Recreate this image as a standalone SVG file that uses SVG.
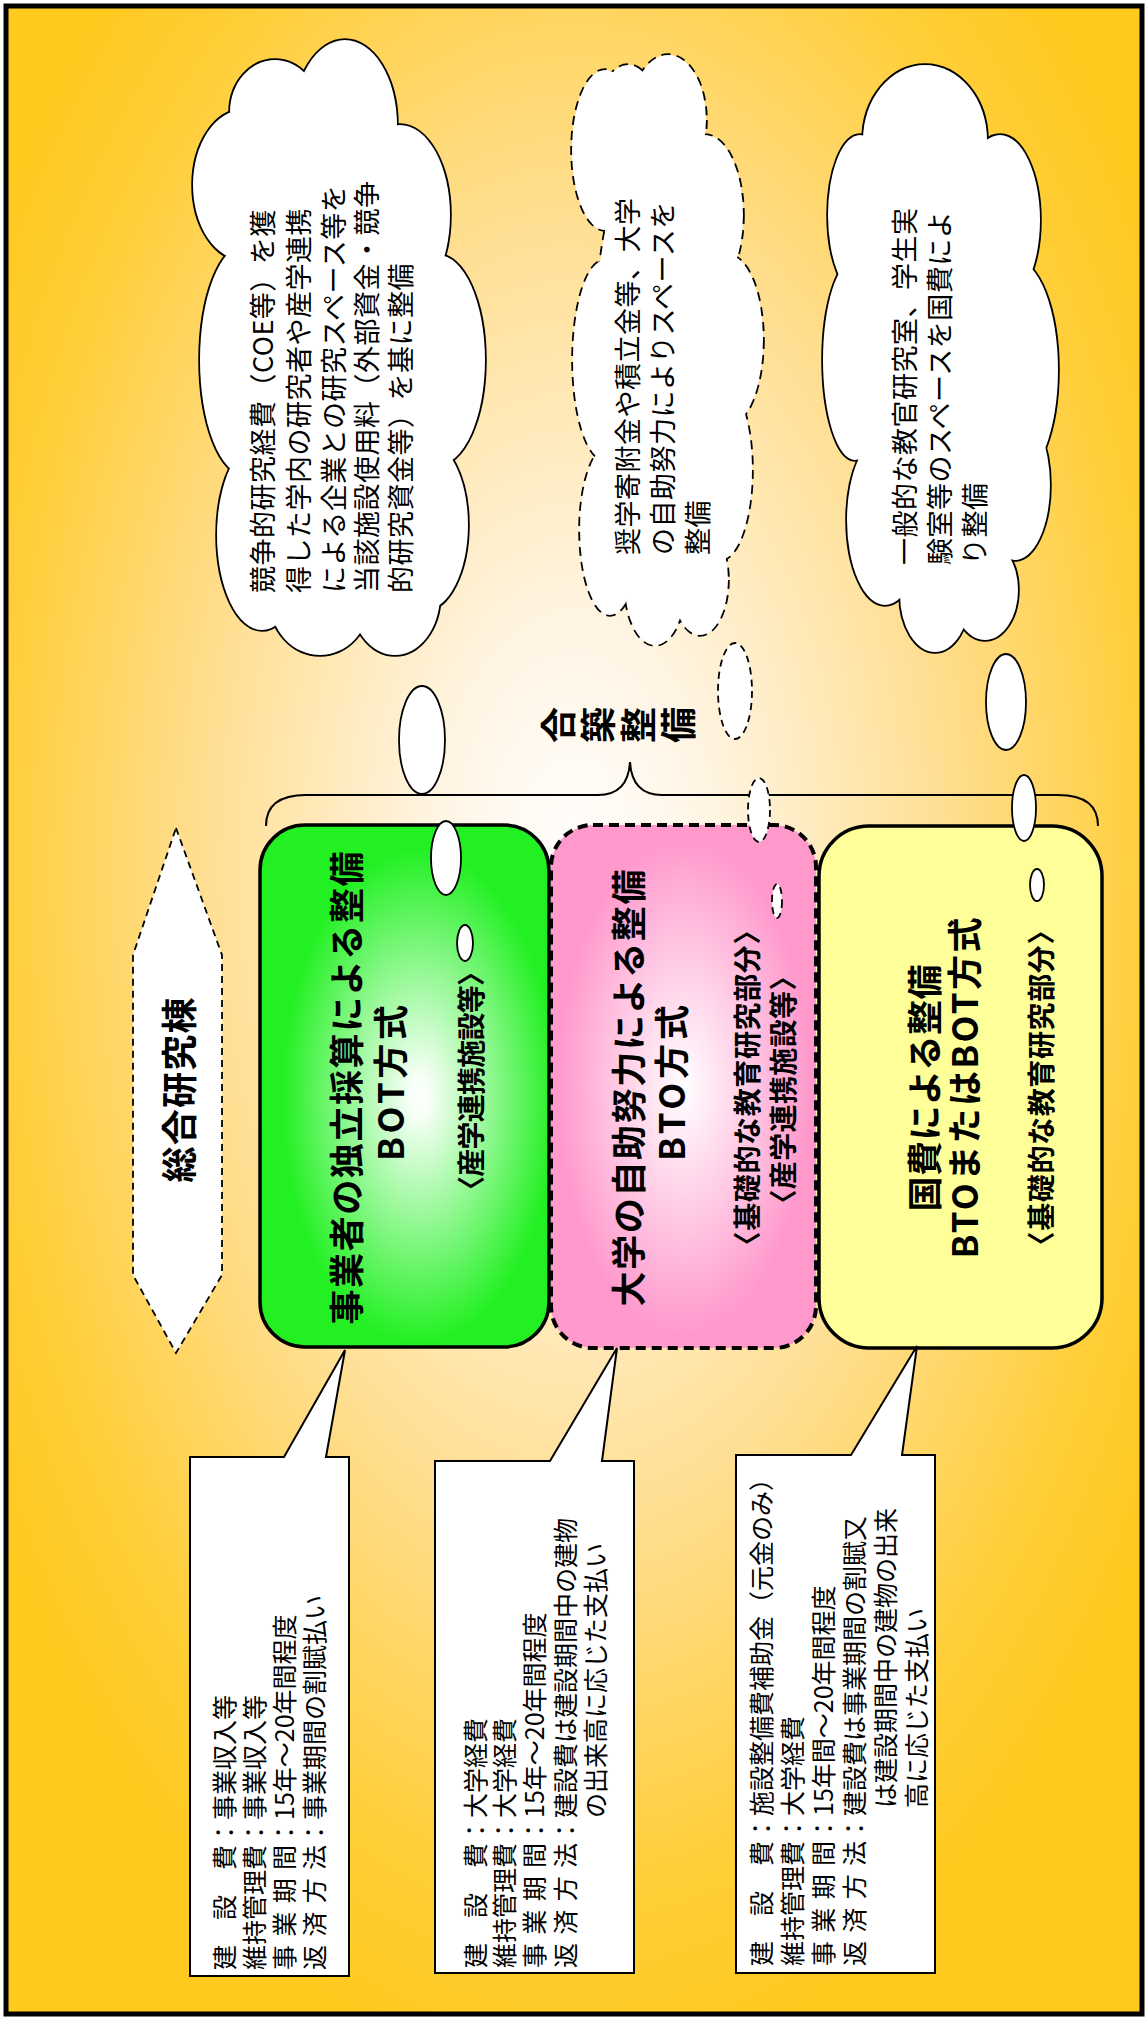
<svg xmlns="http://www.w3.org/2000/svg" width="1148" height="2020" viewBox="0 0 1148 2020">
<defs>
  <radialGradient id="bg" cx="0.5" cy="0.43" r="0.6">
    <stop offset="0" stop-color="#FFFFFF"/>
    <stop offset="0.2" stop-color="#FFF5E4"/>
    <stop offset="0.55" stop-color="#FFDE90"/>
    <stop offset="0.85" stop-color="#FFCE38"/>
    <stop offset="1" stop-color="#FFC91E"/>
  </radialGradient>
  <radialGradient id="gGreen" cx="0.55" cy="0.52" r="0.5">
    <stop offset="0" stop-color="#FFFFFF"/>
    <stop offset="0.08" stop-color="#F6FFF6"/>
    <stop offset="0.95" stop-color="#22F022"/>
  </radialGradient>
  <radialGradient id="gPink" cx="0.5" cy="0.5" r="0.5">
    <stop offset="0" stop-color="#FFFFFF"/>
    <stop offset="0.1" stop-color="#FFF4FA"/>
    <stop offset="0.95" stop-color="#FF99CC"/>
  </radialGradient>
  <g id="c1shape">
    <ellipse cx="243" cy="185" rx="50" ry="75"/>
    <ellipse cx="275" cy="112" rx="45" ry="52"/>
    <ellipse cx="345" cy="125" rx="52" ry="85"/>
    <ellipse cx="400" cy="215" rx="50" ry="90"/>
    <ellipse cx="438" cy="360" rx="47" ry="105"/>
    <ellipse cx="425" cy="525" rx="43" ry="85"/>
    <ellipse cx="395" cy="595" rx="45" ry="60"/>
    <ellipse cx="320" cy="600" rx="50" ry="55"/>
    <ellipse cx="262" cy="535" rx="45" ry="95"/>
    <ellipse cx="245" cy="360" rx="45" ry="115"/>
    <ellipse cx="335" cy="350" rx="110" ry="230"/>
  </g>
  <g id="c2shape">
    <ellipse cx="605" cy="150" rx="33" ry="80"/>
    <ellipse cx="628" cy="110" rx="28" ry="45"/>
    <ellipse cx="668" cy="120" rx="38" ry="65"/>
    <ellipse cx="705" cy="215" rx="38" ry="80"/>
    <ellipse cx="728" cy="340" rx="35" ry="85"/>
    <ellipse cx="720" cy="470" rx="32" ry="90"/>
    <ellipse cx="700" cy="580" rx="28" ry="55"/>
    <ellipse cx="655" cy="585" rx="30" ry="60"/>
    <ellipse cx="610" cy="530" rx="30" ry="85"/>
    <ellipse cx="605" cy="360" rx="32" ry="100"/>
    <ellipse cx="665" cy="350" rx="70" ry="230"/>
  </g>
  <g id="c3shape">
    <ellipse cx="925" cy="140" rx="62" ry="75"/>
    <ellipse cx="860" cy="215" rx="32" ry="80"/>
    <ellipse cx="1000" cy="220" rx="40" ry="85"/>
    <ellipse cx="1015" cy="370" rx="43" ry="110"/>
    <ellipse cx="1015" cy="485" rx="35" ry="75"/>
    <ellipse cx="985" cy="590" rx="33" ry="50"/>
    <ellipse cx="935" cy="595" rx="35" ry="57"/>
    <ellipse cx="885" cy="520" rx="38" ry="85"/>
    <ellipse cx="855" cy="360" rx="32" ry="100"/>
    <ellipse cx="940" cy="370" rx="80" ry="230"/>
  </g>
</defs>
<style>
  .jp { font-family: "Noto Sans CJK JP", "Noto Sans", sans-serif; fill: #000; }
  .b { font-weight: bold; }
  .rot { dominant-baseline: central; }
  .cstroke { fill: #fff; stroke: #000; stroke-width: 3.5; }
  .cdash { fill: #fff; stroke: #000; stroke-width: 3.5; stroke-dasharray: 9 6; }
  .cfill { fill: #fff; stroke: none; }
  .bub { fill: #fff; stroke: #000; stroke-width: 1.8; }
  .bubd { fill: #fff; stroke: #000; stroke-width: 1.8; stroke-dasharray: 7 5; }
  .callout { fill: #fff; stroke: #000; stroke-width: 2; }
  .ctext { font-size: 25px; }
  .cloudtext { font-size: 27px; letter-spacing: 0.5px; }
  .title { font-size: 35px; }
  .sub { font-size: 28px; }
</style>

<rect x="0" y="0" width="1148" height="2020" fill="#fff"/>
<rect x="6" y="6" width="1136" height="2008" fill="url(#bg)" stroke="#000" stroke-width="5"/>

<g id="connectors">
  <path d="M266,826 Q266,795 306,795 L598,795 Q628,795 630,762 Q632,795 662,795 L1058,795 Q1098,795 1098,826" fill="none" stroke="#000" stroke-width="2"/>
</g>

<g id="sogo">
  <polygon points="176,828 222,955 222,1275 176,1353 133,1275 133,955" fill="#fff" stroke="#000" stroke-width="1.8" stroke-dasharray="7 5"/>
  <text class="jp b rot" font-size="36" text-anchor="middle" textLength="185" transform="translate(177,1090) rotate(-90)">総合研究棟</text>
</g>

<g id="box-green">
  <rect x="260" y="825" width="289" height="522" rx="45" ry="45" fill="url(#gGreen)" stroke="#000" stroke-width="3.5"/>
  <text class="jp b rot title" text-anchor="middle" textLength="473" transform="translate(344,1088) rotate(-90)">事業者の独立採算による整備</text>
  <text class="jp b rot title" text-anchor="middle" textLength="156" transform="translate(388,1083) rotate(-90)">BOT方式</text>
  <text class="jp b rot sub" text-anchor="middle" textLength="246" transform="translate(470,1081) rotate(-90)">〈産学連携施設等〉</text>
</g>

<g id="box-pink">
  <rect x="551" y="825" width="265" height="523" rx="42" ry="42" fill="url(#gPink)" stroke="#000" stroke-width="4" stroke-dasharray="10 6"/>
  <text class="jp b rot title" text-anchor="middle" textLength="437" transform="translate(626,1088) rotate(-90)">大学の自助努力による整備</text>
  <text class="jp b rot title" text-anchor="middle" textLength="156" transform="translate(669,1083) rotate(-90)">BTO方式</text>
  <text class="jp b rot sub" text-anchor="middle" textLength="343" transform="translate(746,1088) rotate(-90)">〈基礎的な教育研究部分〉</text>
  <text class="jp b rot sub" text-anchor="middle" textLength="255" transform="translate(782,1090) rotate(-90)">〈産学連携施設等〉</text>
</g>

<g id="box-yellow">
  <rect x="819" y="826" width="283" height="522" rx="50" ry="50" fill="#FFFF99" stroke="#000" stroke-width="3.5"/>
  <text class="jp b rot title" text-anchor="middle" textLength="247" transform="translate(922,1088) rotate(-90)">国費による整備</text>
  <text class="jp b rot title" text-anchor="middle" textLength="341" transform="translate(962,1088) rotate(-90)">BTOまたはBOT方式</text>
  <text class="jp b rot sub" text-anchor="middle" textLength="343" transform="translate(1040,1088) rotate(-90)">〈基礎的な教育研究部分〉</text>
</g>

<g id="gacchiku">
  <text class="jp b rot" font-size="36" text-anchor="middle" transform="translate(556,725) rotate(-90)">合</text>
  <text class="jp b rot" font-size="36" text-anchor="middle" transform="translate(596,725) rotate(-90)">築</text>
  <text class="jp b rot" font-size="36" text-anchor="middle" transform="translate(636,725) rotate(-90)">整</text>
  <text class="jp b rot" font-size="36" text-anchor="middle" transform="translate(676,725) rotate(-90)">備</text>
</g>

<g id="cloud1">
  <use href="#c1shape" class="cstroke"/>
  <use href="#c1shape" class="cfill"/>
  <ellipse class="bub" cx="422" cy="740" rx="23" ry="54"/>
  <ellipse class="bub" cx="446" cy="858" rx="15" ry="37"/>
  <ellipse class="bub" cx="465" cy="943" rx="8" ry="18"/>
  <text class="jp rot cloudtext" transform="translate(261,593) rotate(-90)">競争的研究経費（COE等）を獲</text>
  <text class="jp rot cloudtext" transform="translate(297,593) rotate(-90)">得した学内の研究者や産学連携</text>
  <text class="jp rot cloudtext" transform="translate(332,593) rotate(-90)">による企業との研究スペース等を</text>
  <text class="jp rot cloudtext" transform="translate(365,593) rotate(-90)">当該施設使用料（外部資金・競争</text>
  <text class="jp rot cloudtext" transform="translate(399,593) rotate(-90)">的研究資金等）を基に整備</text>
</g>

<g id="cloud2">
  <use href="#c2shape" class="cdash"/>
  <use href="#c2shape" class="cfill"/>
  <ellipse class="bubd" cx="735" cy="691" rx="17" ry="48"/>
  <ellipse class="bubd" cx="759" cy="810" rx="11" ry="32"/>
  <ellipse class="bubd" cx="777" cy="901" rx="5" ry="17"/>
  <text class="jp rot cloudtext" transform="translate(626,555) rotate(-90)">奨学寄附金や積立金等、大学</text>
  <text class="jp rot cloudtext" transform="translate(661,555) rotate(-90)">の自助努力によりスペースを</text>
  <text class="jp rot cloudtext" transform="translate(696,555) rotate(-90)">整備</text>
</g>

<g id="cloud3">
  <use href="#c3shape" class="cstroke"/>
  <use href="#c3shape" class="cfill"/>
  <ellipse class="bub" cx="1006" cy="702" rx="20" ry="48"/>
  <ellipse class="bub" cx="1024" cy="808" rx="12" ry="33"/>
  <ellipse class="bub" cx="1037" cy="885" rx="7" ry="16"/>
  <text class="jp rot cloudtext" transform="translate(903,565) rotate(-90)">一般的な教官研究室、学生実</text>
  <text class="jp rot cloudtext" transform="translate(938,565) rotate(-90)">験室等のスペースを国費によ</text>
  <text class="jp rot cloudtext" transform="translate(973,565) rotate(-90)">り整備</text>
</g>

<g id="callout1">
  <path class="callout" d="M190,1457 H284 L345,1350 L326,1457 H349 V1976 H190 Z"/>
  <text class="jp rot ctext" transform="translate(223,1970) rotate(-90)">建　設　費：事業収入等</text>
  <text class="jp rot ctext" transform="translate(253,1970) rotate(-90)">維持管理費：事業収入等</text>
  <text class="jp rot ctext" transform="translate(283,1970) rotate(-90)"><tspan x="0 33.3 66.7 100">事業期間</tspan><tspan x="125">：15年～20年間程度</tspan></text>
  <text class="jp rot ctext" transform="translate(313,1970) rotate(-90)"><tspan x="0 33.3 66.7 100">返済方法</tspan><tspan x="125">：事業期間の割賦払い</tspan></text>
</g>

<g id="callout2">
  <path class="callout" d="M435,1461 H550 L617,1348 L602,1461 H634 V1973 H435 Z"/>
  <text class="jp rot ctext" transform="translate(474,1968) rotate(-90)">建　設　費：大学経費</text>
  <text class="jp rot ctext" transform="translate(503,1968) rotate(-90)">維持管理費：大学経費</text>
  <text class="jp rot ctext" transform="translate(533,1968) rotate(-90)"><tspan x="0 33.3 66.7 100">事業期間</tspan><tspan x="125">：15年～20年間程度</tspan></text>
  <text class="jp rot ctext" transform="translate(564,1968) rotate(-90)"><tspan x="0 33.3 66.7 100">返済方法</tspan><tspan x="125">：建設費は建設期間中の建物</tspan></text>
  <text class="jp rot ctext" transform="translate(594,1968) rotate(-90)"><tspan x="150">の出来高に応じた支払い</tspan></text>
</g>

<g id="callout3">
  <path class="callout" d="M736,1455 H851 L917,1346 L902,1455 H935 V1973 H736 Z"/>
  <text class="jp rot ctext" transform="translate(760,1966) rotate(-90)">建　設　費：施設整備費補助金（元金のみ）</text>
  <text class="jp rot ctext" transform="translate(791,1966) rotate(-90)">維持管理費：大学経費</text>
  <text class="jp rot ctext" transform="translate(822,1966) rotate(-90)"><tspan x="0 33.3 66.7 100">事業期間</tspan><tspan x="125">：15年間～20年間程度</tspan></text>
  <text class="jp rot ctext" transform="translate(853,1966) rotate(-90)"><tspan x="0 33.3 66.7 100">返済方法</tspan><tspan x="125">：建設費は事業期間の割賦又</tspan></text>
  <text class="jp rot ctext" transform="translate(884,1966) rotate(-90)"><tspan x="158">は建設期間中の建物の出来</tspan></text>
  <text class="jp rot ctext" transform="translate(915,1966) rotate(-90)"><tspan x="158">高に応じた支払い</tspan></text>
</g>
</svg>
